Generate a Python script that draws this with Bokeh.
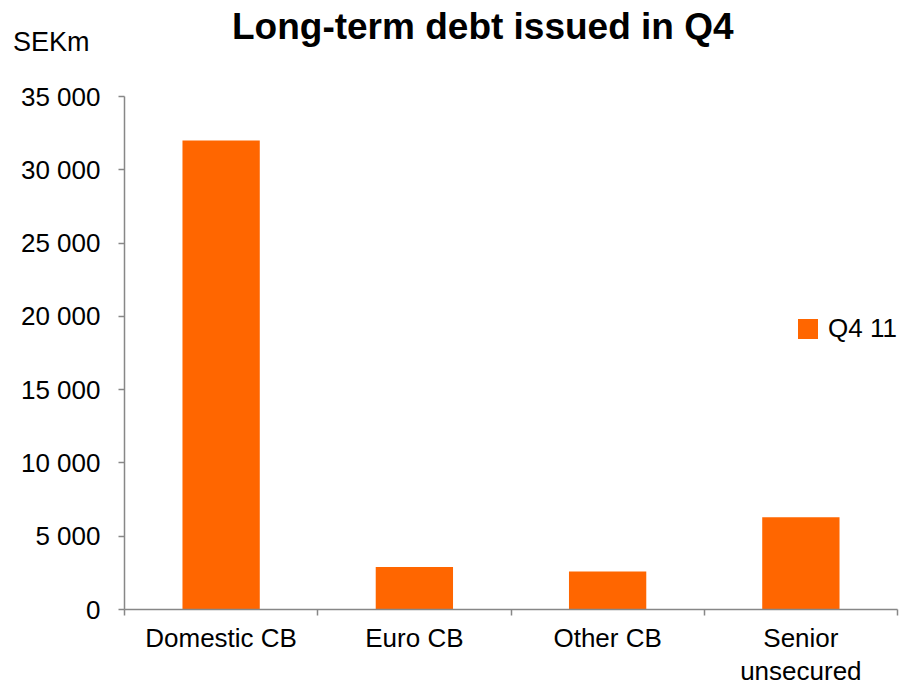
from bokeh.plotting import figure
from bokeh.layouts import column
from bokeh.models import (Range1d, FixedTicker, LinearAxis, Legend, LegendItem,
                          Div, ColumnDataSource)
from bokeh.embed import file_html
from bokeh.resources import INLINE

categories = ["Domestic CB", "Euro CB", "Other CB", "Senior\nunsecured"]
values_q4_11 = [32000, 2900, 2600, 6300]
series_name = "Q4 11"
y_ticks = [0, 5000, 10000, 15000, 20000, 25000, 30000, 35000]
y_tick_labels = ["0", "5 000", "10 000", "15 000", "20 000", "25 000", "30 000", "35 000"]
title_text = "Long-term debt issued in Q4"
unit_text = "SEKm"

FONT = "Liberation Sans"
ORANGE = "#FF6600"
AXIS_GREY = "#878787"
W = 907
HEAD_H = 60
MAIN_H = 689 - HEAD_H

# ---- header strip: title and unit label (real HTML text) ----
head_html = (
    f'<div style="position:relative;width:{W}px;height:{HEAD_H}px;'
    f'font-family:\'{FONT}\';color:black;">'
    f'<span style="position:absolute;left:232px;top:8px;font-size:37px;'
    f'line-height:37px;font-weight:bold;white-space:nowrap;">{title_text}</span>'
    f'<span style="position:absolute;left:13px;top:29px;font-size:27px;'
    f'line-height:27px;white-space:nowrap;">{unit_text}</span>'
    f'</div>'
)
head = Div(text=head_html, width=W, height=HEAD_H, margin=0,
           styles={"overflow": "visible"})

# ---- main chart ----
x_pos = [i + 0.5 for i in range(len(categories))]
src = ColumnDataSource(dict(x=x_pos, top=values_q4_11))

p = figure(width=W, height=MAIN_H, output_backend="svg", toolbar_location=None,
           x_range=Range1d(0, len(categories)), y_range=Range1d(0, 35000),
           x_axis_type=None, y_axis_type=None,
           min_border_left=124, min_border_right=10, min_border_top=96 - HEAD_H,
           min_border_bottom=80, margin=0)
p.outline_line_color = None
p.xgrid.visible = False
p.ygrid.visible = False
p.background_fill_color = "white"
p.border_fill_color = "white"

r = p.vbar(x="x", top="top", bottom=0, width=0.4, source=src,
           fill_color=ORANGE, line_color=None)

# y axis
yax = LinearAxis(ticker=FixedTicker(ticks=y_ticks, minor_ticks=[]))
yax.major_label_overrides = {t: l for t, l in zip(y_ticks, y_tick_labels)}
yax.major_label_text_font = FONT
yax.major_label_text_font_size = "26px"
yax.major_label_text_color = "black"
yax.axis_line_color = AXIS_GREY
yax.axis_line_width = 1.5
yax.major_tick_line_color = AXIS_GREY
yax.major_tick_line_width = 1.5
yax.major_tick_in = 0
yax.major_tick_out = 6
yax.major_label_standoff = 18
p.add_layout(yax, "left")

# x axis: labels at centers, tick marks at category boundaries
xax = LinearAxis(ticker=FixedTicker(ticks=x_pos,
                                    minor_ticks=list(range(len(categories) + 1))))
xax.major_label_overrides = {x: c for x, c in zip(x_pos, categories)}
xax.major_label_text_font = FONT
xax.major_label_text_font_size = "26px"
xax.major_label_text_line_height = 1.1
xax.major_label_text_color = "black"
xax.major_tick_line_color = None
xax.axis_line_color = AXIS_GREY
xax.axis_line_width = 1.5
xax.minor_tick_line_color = AXIS_GREY
xax.minor_tick_line_width = 1.5
xax.minor_tick_in = 0
xax.minor_tick_out = 6
xax.major_label_standoff = 7
p.add_layout(xax, "below")

# legend
legend = Legend(items=[LegendItem(label=series_name, renderers=[r])],
                location=(671, 265), orientation="vertical",
                border_line_color=None, background_fill_alpha=0,
                padding=0, margin=0, glyph_width=25, glyph_height=25,
                label_text_font=FONT, label_text_font_size="26px",
                label_text_color="black",
                label_standoff=8, label_height=25)
p.add_layout(legend, "center")

layout = column(head, p, spacing=0)
open("out.html", "w").write(file_html(layout, INLINE))
